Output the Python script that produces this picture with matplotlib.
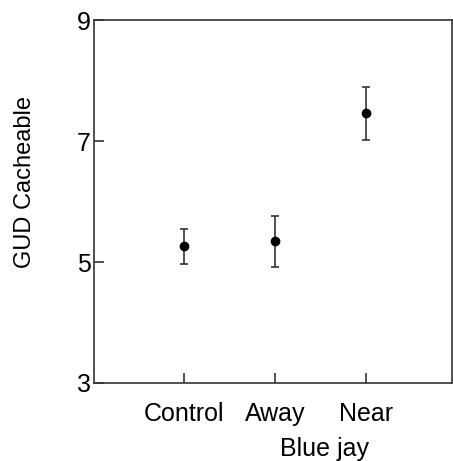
import matplotlib.pyplot as plt
import numpy as np

plt.rcParams['font.family'] = ['Liberation Sans', 'DejaVu Sans']

# --------------------
# Data
# --------------------
groups = ["Control", "Away", "Near"]
gud_mean = np.array([5.26, 5.34, 7.46])
gud_err = np.array([0.29, 0.42, 0.44])

# --------------------
# Plot
# --------------------
fig = plt.figure(figsize=(4.53, 4.61), dpi=100)
ax = fig.add_axes([0.2075, 0.1692, 0.790, 0.7874])

x = np.arange(1, len(groups) + 1)
ax.errorbar(x, gud_mean, yerr=gud_err, fmt="o", color="black",
            ecolor="#333333", elinewidth=1.2, capsize=3.2, capthick=1.2,
            markersize=6)

ax.set_xlim(0.01, 3.94)
ax.set_ylim(3, 9)
ax.set_xticks(x)
ax.set_xticklabels(groups)
ax.set_yticks([3, 5, 7, 9])

for s in ax.spines.values():
    s.set_color("#333333")
    s.set_linewidth(1.2)

ax.tick_params(axis="both", direction="in", length=7.2, width=1.2,
               color="#333333", labelsize=18)
ax.tick_params(axis="x", pad=14)
ax.tick_params(axis="y", pad=2.5)

ax.set_ylabel("GUD Cacheable", fontsize=17)
ax.yaxis.set_label_coords(-0.162, 0.554)
ax.set_xlabel("Blue jay", fontsize=18)
ax.xaxis.set_label_coords(0.645, -0.148)

plt.savefig("out.png", dpi=100)
